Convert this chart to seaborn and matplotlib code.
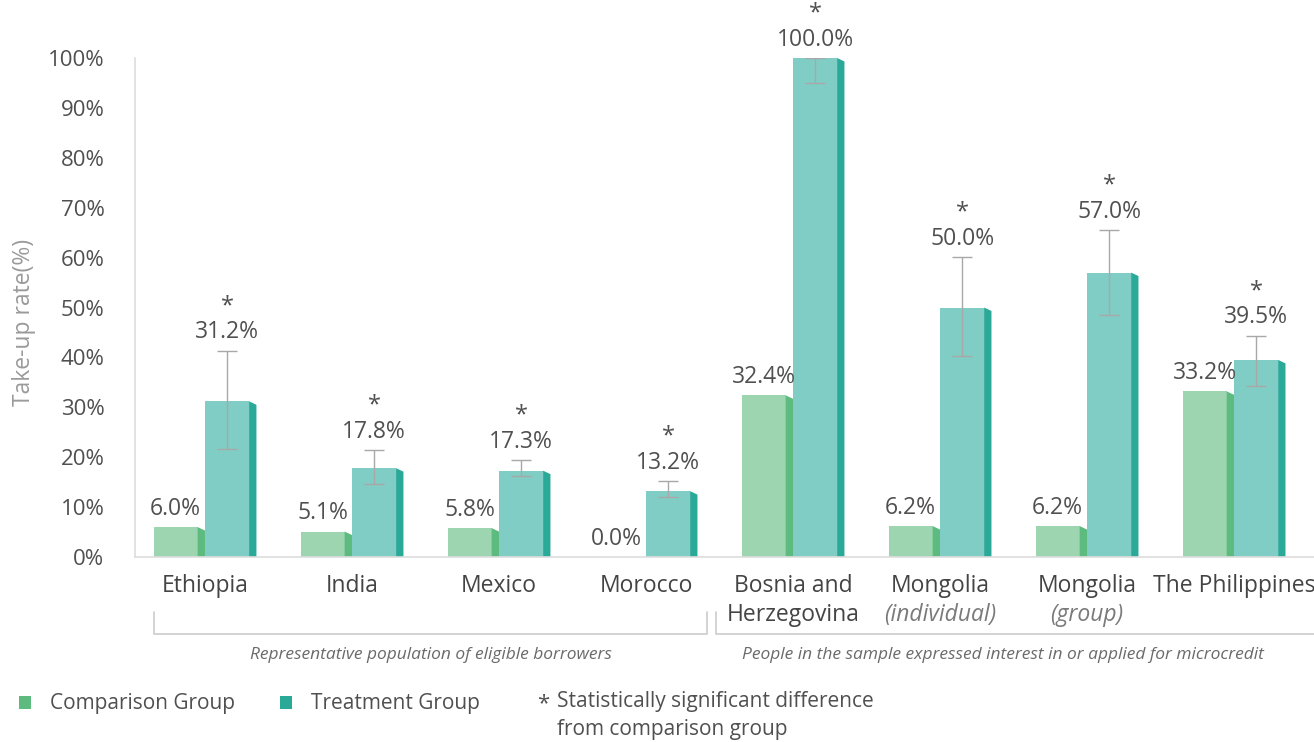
import matplotlib
matplotlib.use("Agg")
import matplotlib.pyplot as plt
import seaborn as sns
import pandas as pd
from matplotlib.patches import Polygon, Patch
import matplotlib.transforms as mtransforms

countries = ["Ethiopia", "India", "Mexico", "Morocco", "Bosnia and",
             "Mongolia", "Mongolia", "The Philippines"]
subtitles = ["", "", "", "", "Herzegovina", "(individual)", "(group)", ""]
subtitle_italic = [False, False, False, False, False, True, True, False]
comparison = [6.0, 5.1, 5.8, 0.0, 32.4, 6.2, 6.2, 33.2]
treatment = [31.2, 17.8, 17.3, 13.2, 100.0, 50.0, 57.0, 39.5]
err_low = [21.6, 14.6, 16.2, 12.0, 95.0, 40.3, 48.5, 34.3]
err_high = [41.3, 21.4, 19.4, 15.2, 100.0, 60.1, 65.5, 44.3]
groups = ["Comparison Group", "Treatment Group"]
yticks = [0, 10, 20, 30, 40, 50, 60, 70, 80, 90, 100]

face_colors = ["#9dd5b0", "#7fcdc4"]
side_colors = ["#5dbb7f", "#2aa898"]
text_color = "#505050"
grid_gray = "#dddddd"

sns.set_style("white")
plt.rcParams["font.family"] = ["Open Sans", "DejaVu Sans"]

keys = [f"c{i}" for i in range(len(countries))]
df = pd.DataFrame({
    "key": keys * 2,
    "group": [groups[0]] * len(keys) + [groups[1]] * len(keys),
    "value": comparison + treatment,
})

fig = plt.figure(figsize=(13.14, 7.42), dpi=100)
ax = fig.add_axes([135 / 1314, 1 - 557 / 742, 1 - 135 / 1314, (557 - 58) / 742])

sns.barplot(data=df, x="key", y="value", hue="group", order=keys,
            hue_order=groups, palette=face_colors, width=0.7,
            saturation=1, errorbar=None, legend=False, ax=ax, zorder=2)

# Convert bars to front face + darker bevelled side face
side_w = 0.05
bevel = 0.7
n = len(keys)
patches = list(ax.patches)
for idx, p in enumerate(patches):
    g = idx // n
    x0 = p.get_x()
    w = p.get_width()
    h = p.get_height()
    p.set_width(w - side_w)
    p.set_edgecolor("none")
    if h <= 0:
        continue
    xs = x0 + w - side_w
    poly = Polygon([(xs, 0), (xs, h), (xs + side_w, h - bevel), (xs + side_w, 0)],
                   closed=True, facecolor=side_colors[g], edgecolor="none", zorder=2)
    ax.add_patch(poly)

comp_x = [patches[i].get_x() + patches[i].get_width() / 2 for i in range(n)]
treat_x = [patches[n + i].get_x() + patches[n + i].get_width() / 2 for i in range(n)]

# Error bars on treatment bars
for i in range(n):
    ax.errorbar(treat_x[i], (err_low[i] + err_high[i]) / 2,
                yerr=(err_high[i] - err_low[i]) / 2, color="#a8a8a8",
                elinewidth=1.0, capsize=7, capthick=1.0, zorder=3, fmt="none")

# Value labels
for i in range(n):
    ax.text(comp_x[i], comparison[i] + 1.3, f"{comparison[i]:.1f}%", ha="center",
            va="bottom", fontsize=16.5, color=text_color, clip_on=False)
    ax.text(treat_x[i], err_high[i] + 1.3, f"{treatment[i]:.1f}%", ha="center",
            va="bottom", fontsize=16.5, color=text_color, clip_on=False)
    ax.text(treat_x[i], err_high[i] + 6.6, "*", ha="center", va="bottom",
            fontsize=17, color=text_color, clip_on=False)

ax.set_ylim(0, 100)
ax.set_xlim(-0.476, 7.544)
ax.set_yticks(yticks)
ax.set_yticklabels([f"{t}%" for t in yticks], fontsize=16, color=text_color)
ax.tick_params(axis="y", length=14, color=grid_gray, width=1, pad=8)
ax.tick_params(axis="x", length=0)
ax.set_xticks(range(n))
ax.set_xticklabels([""] * n)
ax.set_xlabel("")
ax.set_ylabel("Take-up rate(%)", fontsize=16.5, color="#9a9a9a")
ax.yaxis.set_label_coords(-0.084, 0.47)
for s in ["top", "right"]:
    ax.spines[s].set_visible(False)
for s in ["left", "bottom"]:
    ax.spines[s].set_color(grid_gray)
    ax.spines[s].set_linewidth(1.2)

# Category labels
trans = mtransforms.blended_transform_factory(ax.transData, fig.transFigure)
for i in range(n):
    ax.text(i, 1 - 586 / 742, countries[i], transform=trans, ha="center",
            va="center", fontsize=16.5, color="#444444", clip_on=False)
    if subtitles[i]:
        ax.text(i, 1 - 615 / 742, subtitles[i], transform=trans, ha="center",
                va="center", fontsize=16.5,
                color="#444444" if not subtitle_italic[i] else "#7a7a7a",
                style="italic" if subtitle_italic[i] else "normal", clip_on=False)

# Brackets
y_top = 1 - 612 / 742
y_bot = 1 - 634 / 742
for xa, xb in [(-0.347, 3.415), (3.476, 7.9)]:
    ax.plot([xa, xa, xb, xb], [y_top, y_bot, y_bot, y_top], transform=trans,
            color="#cccccc", lw=1.2, clip_on=False)
ax.text((-0.347 + 3.415) / 2, 1 - 655 / 742, "Representative population of eligible borrowers",
        transform=trans, ha="center", va="center", fontsize=12.5, style="italic",
        color="#6a6a6a", clip_on=False)
ax.text(5.43, 1 - 655 / 742,
        "People in the sample expressed interest in or applied for microcredit",
        transform=trans, ha="center", va="center", fontsize=12.5, style="italic",
        color="#6a6a6a", clip_on=False)

# Legend
handles = [Patch(facecolor=side_colors[0], edgecolor="none"),
           Patch(facecolor=side_colors[1], edgecolor="none")]
leg = fig.legend(handles, groups, loc="center left", bbox_to_anchor=(0.0, 1 - 704 / 742),
                 ncol=2, frameon=False, fontsize=15, handlelength=0.6, handleheight=0.6,
                 columnspacing=2.15, handletextpad=0.9)
for t in leg.get_texts():
    t.set_color(text_color)
fig.text(537 / 1314, 1 - 704 / 742, "*", ha="left", va="center", fontsize=16, color=text_color)
fig.text(557 / 1314, 1 - 691 / 742,
         "Statistically significant difference\nfrom comparison group",
         ha="left", va="top", fontsize=15, color=text_color, linespacing=1.45)

fig.savefig("out.png", dpi=100)
